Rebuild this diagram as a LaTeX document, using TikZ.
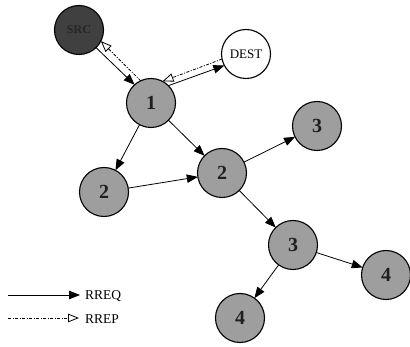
\documentclass[tikz,border=0pt]{standalone}
\usepackage{fontspec}
\setmainfont{Liberation Serif}
\usetikzlibrary{arrows.meta}
\begin{document}
\begin{tikzpicture}[x=1pt,y=-1pt,
  hop/.style={circle,draw=black,line width=1.1pt,fill=black!38,minimum size=49pt,inner sep=0pt,outer sep=0pt,font=\fontsize{20}{20}\selectfont\bfseries,text=black!88},
  srcnode/.style={hop,fill=black!75,font=\fontsize{12}{12}\selectfont\bfseries,text=black!85},
  destnode/.style={hop,fill=white,font=\fontsize{13}{13}\selectfont,text=black},
  req/.style={line width=0.8pt,-{Triangle[length=11pt,width=8.5pt]}},
  rep/.style={line width=0.8pt,dash pattern=on 3pt off 1.5pt on 1pt off 1.5pt,-{Triangle[open,length=11pt,width=8.5pt,line width=0.8pt]}},
  legend/.style={font=\fontsize{13.5}{13.5}\selectfont,anchor=west,inner sep=0pt}]
\useasboundingbox (0,0) rectangle (410,347);
\node[srcnode] (src) at (79,30) {SRC};
\node[destnode] (dest) at (246,54) {DEST};
\node[hop] (n1) at (151,103) {1};
\node[hop] (n2a) at (104,192) {2};
\node[hop] (n2b) at (222,173) {2};
\node[hop] (n3a) at (317,126) {3};
\node[hop] (n3b) at (293,245) {3};
\node[hop] (n4a) at (386,275) {4};
\node[hop] (n4b) at (240,318) {4};
% request / reply between SRC, 1 and DEST
\draw[req] (src.-46) -- (n1.132);
\draw[rep] (n1.115) -- (src.-27);
\draw[req] (n1.45) -- (dest.208);
\draw[rep] (dest.192) -- (n1.62);
% flooding
\draw[req] (n1) -- (n2a);
\draw[req] (n1) -- (n2b);
\draw[req] (n2a) -- (n2b);
\draw[req] (n2b) -- (n3a);
\draw[req] (n2b) -- (n3b);
\draw[req] (n3b) -- (n4a);
\draw[req] (n3b) -- (n4b);
% legend
\coordinate (l1s) at (8,295);
\coordinate (l1e) at (80,295);
\coordinate (l2s) at (8,318);
\coordinate (l2e) at (79,318);
\node[legend] (rreq) at (85,296) {RREQ};
\node[legend] (rrep) at (85,319) {RREP};
\draw[req] (l1s) -- (l1e);
\draw[rep] (l2s) -- (l2e);
\end{tikzpicture}
\end{document}
